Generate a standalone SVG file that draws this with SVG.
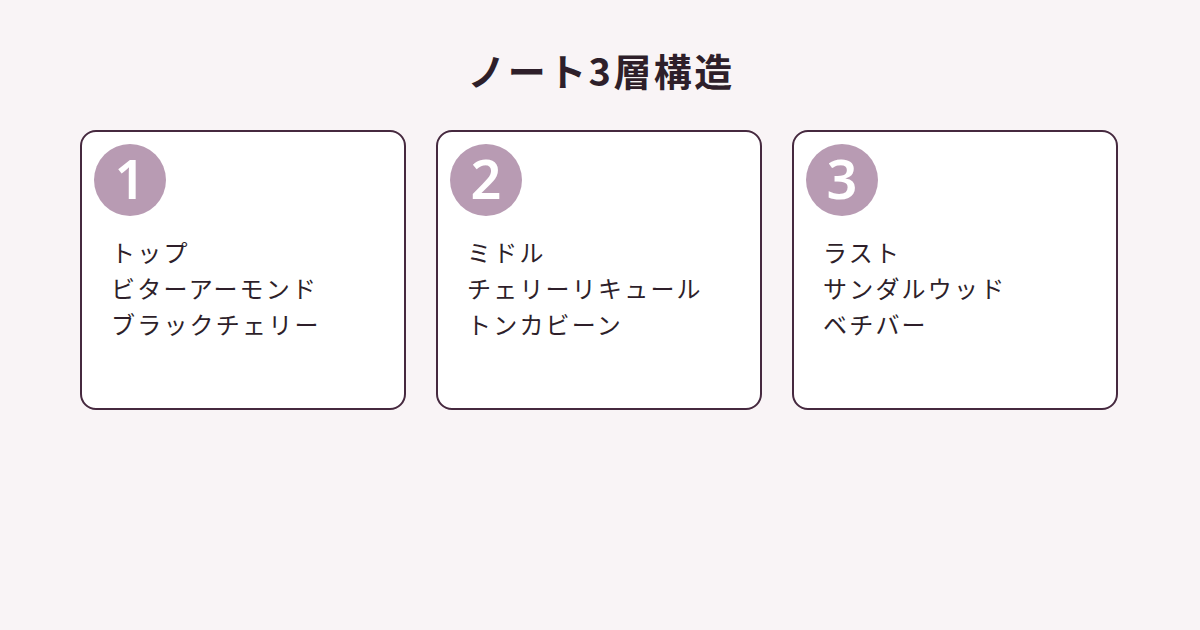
<svg xmlns="http://www.w3.org/2000/svg" width="1200" height="630" viewBox="0 0 1200 630">
<style>
.card{fill:#ffffff;stroke:#46293f;stroke-width:2}
.badge{fill:#b89bb3}
.num{font-family:"Noto Sans","Noto Sans CJK JP",sans-serif;font-size:54px;font-weight:600;fill:#ffffff;text-anchor:middle}
.item{font-family:"Noto Sans CJK JP",sans-serif;font-size:24px;fill:#2e1f2a;letter-spacing:2.2px}
.title{font-family:"Noto Sans CJK JP",sans-serif;font-size:38px;font-weight:bold;fill:#2e1f2a;text-anchor:middle;letter-spacing:2.4px}
</style>
<rect width="1200" height="630" fill="#f9f4f6"/>
<text class="title" x="601" y="86">ノート3層構造</text>
<g id="node1">
<rect class="card" x="81" y="131" width="324" height="278" rx="15"/>
<circle class="badge" cx="130" cy="180" r="36"/>
<text class="num" x="130" y="199">1</text>
<text class="item" x="111" y="262">トップ</text>
<text class="item" x="111" y="298">ビターアーモンド</text>
<text class="item" x="111" y="334">ブラックチェリー</text>
</g>
<g id="node2">
<rect class="card" x="437" y="131" width="324" height="278" rx="15"/>
<circle class="badge" cx="486" cy="180" r="36"/>
<text class="num" x="486" y="199">2</text>
<text class="item" x="467" y="262">ミドル</text>
<text class="item" x="467" y="298">チェリーリキュール</text>
<text class="item" x="467" y="334">トンカビーン</text>
</g>
<g id="node3">
<rect class="card" x="793" y="131" width="324" height="278" rx="15"/>
<circle class="badge" cx="842" cy="180" r="36"/>
<text class="num" x="842" y="199">3</text>
<text class="item" x="823" y="262">ラスト</text>
<text class="item" x="823" y="298">サンダルウッド</text>
<text class="item" x="823" y="334">ベチバー</text>
</g>
<g id="connectors"></g>
</svg>
